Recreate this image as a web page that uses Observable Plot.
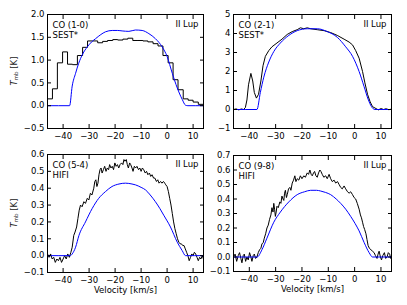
<!DOCTYPE html>
<html><head><meta charset="utf-8">
<script src="https://cdn.jsdelivr.net/npm/d3@7"></script>
<script src="https://cdn.jsdelivr.net/npm/@observablehq/plot@0.6"></script>
<style>
body{margin:0;background:#fff;}
#fig{position:relative;width:407px;height:305px;background:#fff;overflow:hidden;}
#fig svg{position:absolute;overflow:visible;}
</style></head><body><div id="fig"></div>
<script>
const velTicks = [-40, -30, -20, -10, 0, 10];

// CO (1-0) SEST* observed (channel left edges) and model
const co10ObsVel = [-46, -44.1, -42.2, -40.2, -38.3, -36.4, -34.5, -32.5, -30.6, -28.7, -26.7, -24.8, -22.9, -20.9, -19.0, -17.0, -15.1, -13.2, -11.2, -9.3, -7.4, -5.4, -3.5, -1.6, 0.4, 2.3, 4.2, 6.2, 8.1, 10.0, 12.0, 14.0];
const co10Obs = [0.15, 0.37, 0.94, 1.18, 0.91, 0.90, 1.10, 1.28, 1.42, 1.42, 1.38, 1.41, 1.43, 1.45, 1.44, 1.46, 1.48, 1.43, 1.43, 1.42, 1.40, 1.36, 1.31, 1.10, 0.94, 0.57, 0.35, 0.15, 0.12, 0.08, 0.03, 0.03];
const co10ModVel = [-46, -37.5, -36.5, -35.2, -34, -32.5, -30.7, -29, -27.5, -25.5, -23.7, -21.1, -19, -17.3, -14.7, -12.2, -9.6, -7, -4.5, -1.9, 0, 2, 3.9, 5.8, 7.1, 8, 14];
const co10Mod = [0, 0, 0.43, 0.71, 0.93, 1.13, 1.29, 1.40, 1.47, 1.56, 1.62, 1.65, 1.65, 1.64, 1.63, 1.66, 1.65, 1.58, 1.47, 1.29, 1.08, 0.71, 0.39, 0.14, 0.01, 0, 0];

// CO (2-1) SEST*
const co21ObsVel = [-46, -45, -44, -43, -42.2, -41.5, -40.9, -40.3, -39.4, -38.7, -38.1, -37.3, -36.5, -35.6, -34.8, -33.9, -32.6, -31.4, -29.5, -27.6, -25.6, -23.7, -21.8, -20.6, -19.3, -18, -16.7, -14.2, -11.6, -9.1, -6.6, -4.0, -2.1, -0.8, 0.4, 1.7, 3.0, 3.9, 4.9, 5.9, 6.8, 8.1, 9, 10, 11, 11.9, 13, 14];
const co21Obs = [0.0, 0.03, -0.02, 0.03, 0.0, 0.1, 0.5, 1.3, 1.9, 1.5, 0.9, 0.6, 0.8, 1.5, 2.3, 2.8, 3.1, 3.3, 3.5, 3.7, 3.95, 4.1, 4.2, 4.3, 4.25, 4.3, 4.25, 4.2, 4.15, 4.05, 3.9, 3.7, 3.55, 3.4, 3.1, 2.7, 2.0, 1.4, 0.8, 0.4, 0.15, 0.05, -0.02, 0.05, 0.0, 0.04, -0.01, 0.02];
const co21ModVel = [-46, -37.1, -35.8, -34.5, -32.6, -30.7, -28.2, -25, -21.8, -18, -14.2, -10.4, -6.6, -3.4, -0.8, 1.7, 3.6, 5.1, 6.4, 7.7, 14];
const co21Mod = [0, 0, 0.9, 1.7, 2.5, 3.05, 3.5, 3.9, 4.15, 4.25, 4.25, 4.1, 3.8, 3.3, 2.8, 2.0, 1.2, 0.55, 0.15, 0, 0];

// CO (5-4) HIFI
const co54ObsVel = [-46, -45.4, -44.8, -44.2, -43.6, -43.0, -42.4, -41.8, -41.2, -40.6, -40.0, -39.4, -38.8, -38.2, -37.6, -37.0, -36.5, -35.9, -35.4, -34.8, -34.3, -33.8, -33.3, -32.7, -32.0, -31.4, -30.7, -30.1, -29.5, -28.9, -28.2, -27.8, -27.4, -27.0, -26.6, -26.2, -25.8, -25.4, -25.0, -24.5, -24.0, -23.5, -23.0, -22.5, -22.1, -21.6, -21.1, -20.6, -20.1, -19.6, -19.1, -18.6, -18.1, -17.5, -17.0, -16.6, -16.2, -15.7, -15.3, -14.9, -14.4, -14.0, -13.5, -13.1, -12.6, -12.1, -11.6, -11.0, -10.5, -10.0, -9.5, -9.0, -8.4, -7.9, -7.4, -6.8, -6.3, -5.8, -5.2, -4.7, -4.1, -3.6, -3.1, -2.5, -2.0, -1.4, -0.9, -0.5, 0.0, 0.5, 1.0, 1.5, 2.0, 2.5, 3.0, 3.5, 4.0, 4.5, 5.0, 5.5, 6.0, 6.5, 7.0, 7.5, 8.0, 8.5, 9.0, 9.5, 10.0, 10.5, 11.0, 11.5, 12.0, 12.5, 13.0, 13.5, 14.0];
const co54Obs = [0.01, -0.01, 0.01, -0.02, -0.01, -0.04, -0.02, -0.03, -0.01, -0.04, -0.02, 0.0, -0.02, 0.01, -0.01, 0.02, 0.05, 0.12, 0.14, 0.17, 0.22, 0.27, 0.30, 0.29, 0.32, 0.31, 0.34, 0.33, 0.37, 0.36, 0.40, 0.44, 0.45, 0.41, 0.43, 0.48, 0.51, 0.52, 0.49, 0.51, 0.53, 0.50, 0.52, 0.51, 0.54, 0.52, 0.53, 0.51, 0.55, 0.53, 0.54, 0.52, 0.54, 0.55, 0.54, 0.57, 0.56, 0.57, 0.54, 0.52, 0.55, 0.54, 0.52, 0.50, 0.53, 0.52, 0.53, 0.51, 0.52, 0.50, 0.52, 0.51, 0.49, 0.50, 0.48, 0.49, 0.47, 0.48, 0.46, 0.46, 0.44, 0.45, 0.43, 0.44, 0.43, 0.44, 0.43, 0.42, 0.41, 0.38, 0.34, 0.30, 0.25, 0.20, 0.16, 0.13, 0.10, 0.08, 0.07, 0.07, 0.06, 0.06, 0.04, 0.02, 0.0, -0.03, -0.01, 0.01, 0.0, 0.02, 0.01, -0.01, -0.03, -0.01, -0.02, 0.0, -0.02];
const co54ModVel = [-46, -37.2, -36.5, -35.2, -33.9, -31.4, -28.8, -26.3, -23.7, -21.2, -18.5, -16, -13.5, -12.2, -10, -8.3, -6.5, -4.5, -2.8, -1.3, 1.3, 3.9, 5.8, 7.1, 14];
const co54Mod = [0, 0, 0.01, 0.05, 0.12, 0.2, 0.28, 0.34, 0.38, 0.41, 0.425, 0.43, 0.425, 0.42, 0.405, 0.39, 0.36, 0.32, 0.28, 0.24, 0.17, 0.08, 0.03, 0.0, 0];

// CO (9-8) HIFI
const co98ObsVel = [-46, -45.4, -44.8, -44.2, -43.7, -43.2, -42.8, -42.3, -41.9, -41.4, -40.9, -40.4, -39.9, -39.4, -39.0, -38.5, -38.1, -37.6, -37.1, -36.6, -36.1, -35.6, -35.2, -34.7, -34.3, -33.8, -33.3, -32.8, -32.3, -31.8, -31.4, -31.0, -30.7, -30.4, -30.1, -29.8, -29.5, -29.0, -28.4, -28.0, -27.6, -27.2, -26.9, -26.6, -26.3, -25.9, -25.6, -25.1, -24.6, -24.2, -23.7, -23.2, -22.7, -22.3, -21.8, -21.2, -20.6, -20.0, -19.3, -18.7, -18.0, -17.5, -17.0, -16.5, -16.1, -15.6, -15.2, -14.7, -14.2, -13.7, -13.2, -12.8, -12.3, -11.7, -11.0, -10.4, -9.7, -9.1, -8.5, -7.8, -7.2, -6.5, -5.9, -5.3, -4.7, -4.0, -3.4, -2.7, -2.1, -1.5, -0.8, -0.2, 0.4, 1.0, 1.7, 2.2, 2.6, 3.0, 3.4, 3.8, 4.3, 4.7, 5.1, 5.6, 6.2, 6.8, 7.4, 7.9, 8.5, 8.9, 9.3, 9.8, 10.2, 10.7, 11.3, 11.8, 12.3, 12.8, 13.3, 13.7, 14.0];
const co98Obs = [0.0, 0.02, -0.03, 0.01, 0.03, -0.01, -0.04, 0.01, 0.02, -0.03, 0.0, -0.02, 0.03, 0.0, -0.03, 0.01, 0.02, -0.01, 0.0, 0.03, 0.05, 0.06, 0.09, 0.10, 0.13, 0.16, 0.20, 0.22, 0.26, 0.29, 0.34, 0.31, 0.37, 0.33, 0.28, 0.31, 0.35, 0.34, 0.38, 0.37, 0.42, 0.40, 0.39, 0.44, 0.46, 0.41, 0.43, 0.47, 0.48, 0.46, 0.51, 0.53, 0.56, 0.52, 0.54, 0.53, 0.56, 0.54, 0.56, 0.55, 0.58, 0.57, 0.60, 0.57, 0.56, 0.58, 0.59, 0.56, 0.55, 0.58, 0.60, 0.59, 0.57, 0.55, 0.56, 0.54, 0.57, 0.54, 0.52, 0.53, 0.51, 0.52, 0.50, 0.48, 0.47, 0.49, 0.47, 0.45, 0.44, 0.45, 0.43, 0.41, 0.40, 0.37, 0.33, 0.29, 0.27, 0.24, 0.21, 0.19, 0.16, 0.12, 0.08, 0.06, 0.05, 0.04, 0.03, 0.01, -0.01, 0.02, 0.04, 0.0, -0.02, 0.01, 0.03, -0.01, 0.0, 0.03, 0.02, -0.01, 0.01];
const co98ModVel = [-46, -37, -35.2, -33.3, -30.7, -28.2, -25, -21.8, -19, -16.7, -14.5, -12.9, -11, -9.1, -7, -5.3, -3.4, -1.5, 0.2, 1.7, 3.6, 5.5, 6.8, 14];
const co98Mod = [0, 0, 0.05, 0.13, 0.24, 0.31, 0.38, 0.43, 0.45, 0.46, 0.46, 0.455, 0.445, 0.43, 0.40, 0.37, 0.33, 0.28, 0.23, 0.18, 0.10, 0.03, 0.0, 0];

const yTicks10 = [-0.5, 0.0, 0.5, 1.0, 1.5, 2.0];
const yTicks21 = [-1, 0, 1, 2, 3, 4, 5];
const yTicks54 = [-0.1, 0.0, 0.1, 0.2, 0.3, 0.4, 0.5, 0.6];
const yTicks98 = [-0.1, 0.0, 0.1, 0.2, 0.3, 0.4, 0.5, 0.6, 0.7];

const toRows = (vs, ts) => vs.map((v, i) => ({v, t: ts[i]}));
const fig = document.getElementById("fig");
const FONT = "DejaVu Sans, sans-serif";

function panel(o) {
  const marks = [
    Plot.line(toRows(o.obsVel, o.obs), {x: "v", y: "t", stroke: "black", strokeWidth: 1, curve: o.curve, clip: true}),
    Plot.line(toRows(o.modVel, o.mod), {x: "v", y: "t", stroke: "#0000ff", strokeWidth: 1, curve: "monotone-x", clip: true}),
    Plot.frame({stroke: "black", strokeWidth: 1}),
    Plot.axisX({ticks: velTicks, tickSize: -4, tickPadding: 8, tickFormat: d3.format("d"), label: null}),
    Plot.axisX({anchor: "top", ticks: velTicks, tickSize: -4, tickFormat: () => "", label: null}),
    Plot.axisY({ticks: o.yTicks, tickSize: -4, tickPadding: 7, tickFormat: o.yFmt, label: null}),
    Plot.axisY({anchor: "right", ticks: o.yTicks, tickSize: -4, tickFormat: () => "", label: null}),
    Plot.text([o.line], {text: d => d, frameAnchor: "top-left", dx: 5, dy: 6, lineAnchor: "top", textAnchor: "start", lineHeight: 1.18, fill: "black"}),
    Plot.text(["II Lup"], {text: d => d, frameAnchor: "top-right", dx: -5, dy: 6, lineAnchor: "top", textAnchor: "end", fill: "black"})
  ];
  if (o.xlabel) marks.push(Plot.text(["Velocity [km/s]"], {text: d => d, frameAnchor: "bottom", dy: 18, lineAnchor: "middle", fill: "black"}));
  const svg = Plot.plot({
    width: o.width, height: o.height,
    marginLeft: o.ml, marginRight: o.mr, marginTop: o.mt, marginBottom: o.mb,
    x: {domain: [-46, 14], label: null},
    y: {domain: o.yDomain, label: null},
    style: {fontFamily: FONT, fontSize: "8.5px", color: "black", background: "white", overflow: "visible"},
    marks
  });
  svg.style.left = o.left + "px";
  svg.style.top = o.top + "px";
  if (o.ylabel) {
    const cy = o.mt + (o.height - o.mt - o.mb) / 2;
    const t = d3.select(svg).append("text")
      .attr("transform", `translate(14,${cy}) rotate(-90)`)
      .attr("text-anchor", "middle")
      .attr("dominant-baseline", "middle")
      .attr("font-family", FONT)
      .attr("font-size", 8.5)
      .attr("fill", "#222");
    t.append("tspan").attr("font-style", "italic").text("T");
    t.append("tspan").attr("font-size", 5.5).attr("dy", 2).text("mb");
    t.append("tspan").attr("dy", -2).text(" [K]");
  }
  fig.appendChild(svg);
}

panel({left: 0, top: 0, width: 210, height: 145, ml: 47, mr: 7, mt: 14, mb: 17,
  obsVel: co10ObsVel, obs: co10Obs, modVel: co10ModVel, mod: co10Mod, curve: "step-after",
  yDomain: [-0.5, 2.0], yTicks: yTicks10, yFmt: d3.format(".1f"), line: "CO (1-0)\nSEST*", ylabel: true});
panel({left: 205, top: 0, width: 202, height: 145, ml: 28, mr: 16, mt: 14, mb: 17,
  obsVel: co21ObsVel, obs: co21Obs, modVel: co21ModVel, mod: co21Mod, curve: "linear",
  yDomain: [-1, 5], yTicks: yTicks21, yFmt: d3.format("d"), line: "CO (2-1)\nSEST*"});
panel({left: 0, top: 145, width: 210, height: 160, ml: 47, mr: 7, mt: 9, mb: 33,
  obsVel: co54ObsVel, obs: co54Obs, modVel: co54ModVel, mod: co54Mod, curve: "linear",
  yDomain: [-0.1, 0.6], yTicks: yTicks54, yFmt: d3.format(".1f"), line: "CO (5-4)\nHIFI", ylabel: true, xlabel: true});
panel({left: 205, top: 145, width: 202, height: 160, ml: 28, mr: 16, mt: 10, mb: 34,
  obsVel: co98ObsVel, obs: co98Obs, modVel: co98ModVel, mod: co98Mod, curve: "linear",
  yDomain: [-0.1, 0.7], yTicks: yTicks98, yFmt: d3.format(".1f"), line: "CO (9-8)\nHIFI", xlabel: true});
</script>
</body></html>
